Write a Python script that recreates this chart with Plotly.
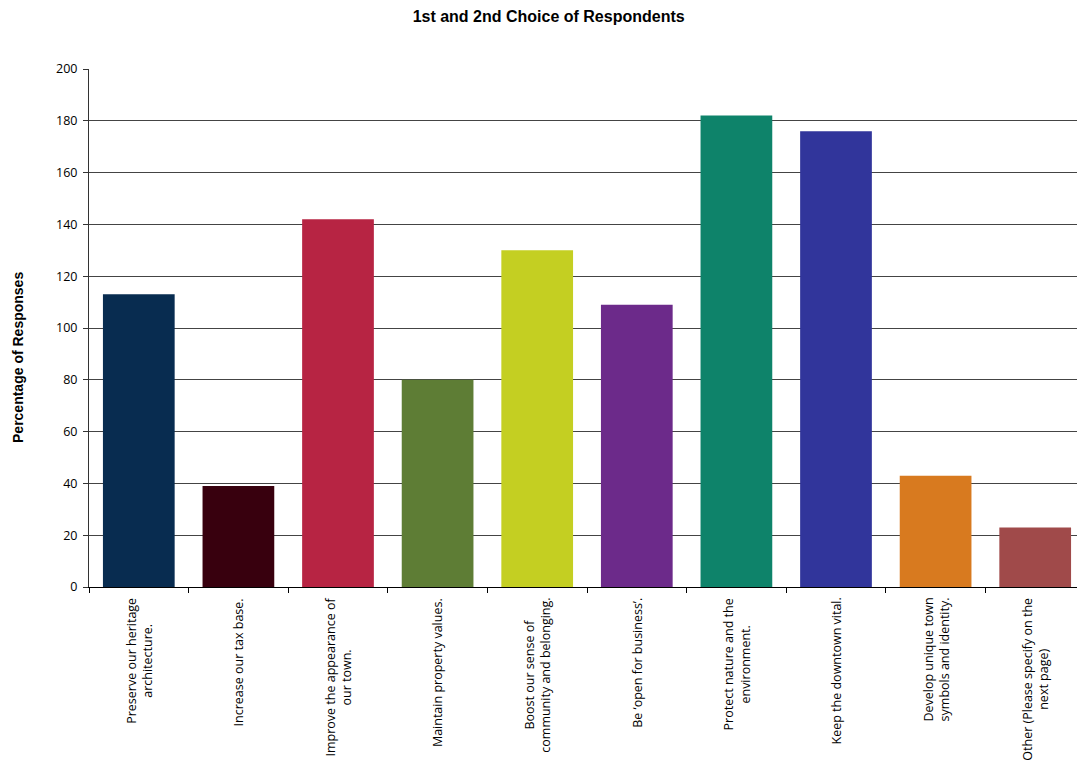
import plotly.graph_objects as go

# Data
categories = [
    "Preserve our heritage<br>architecture.",
    "Increase our tax base.",
    "Improve the appearance of<br>our town.",
    "Maintain property values.",
    "Boost our sense of<br>community and belonging.",
    "Be ‘open for business’.",
    "Protect nature and the<br>environment.",
    "Keep the downtown vital.",
    "Develop unique town<br>symbols and identity.",
    "Other (Please specify on the<br>next page)",
]
values = [113, 39, 142, 80, 130, 109, 182, 176, 43, 23]
colors = ["#082C50", "#38000E", "#B72443", "#5E7D35", "#C4CF22",
          "#6C2A8A", "#0E836A", "#31359B", "#D87A1F", "#A04A4A"]
y_ticks = list(range(0, 201, 20))

fig = go.Figure()

fig.add_trace(go.Bar(
    x=categories,
    y=values,
    marker_color=colors,
    marker_line_width=0,
    showlegend=False,
))

# category labels as centred, rotated annotations (tick labels would be right-aligned)
annots = []
for c in categories:
    annots.append(dict(
        text=c, x=c, y=0, xref="x", yref="paper",
        yanchor="top", xanchor="center", yshift=-9,
        textangle=-90, align="center", showarrow=False,
        font=dict(family="Open Sans", size=12.5, color="black"),
    ))

annots.append(dict(
    text="<b>Percentage of Responses</b>",
    xref="paper", yref="paper",
    x=-0.0713, y=0.444,
    textangle=-90, showarrow=False,
    xanchor="center", yanchor="middle",
    font=dict(family="Liberation Sans, Arial", size=14, color="black"),
))

fig.update_layout(
    width=1077,
    height=767,
    plot_bgcolor="white",
    paper_bgcolor="white",
    margin=dict(l=81, r=0, t=61, b=188),
    bargap=0.28,
    title=dict(
        text="<b>1st and 2nd Choice of Respondents</b>",
        x=0.502, xref="container", y=0.9896, yref="container",
        xanchor="center", yanchor="middle",
        font=dict(family="Liberation Sans, Arial", size=16, color="black"),
    ),
    font=dict(family="Open Sans", size=12, color="black"),
    xaxis=dict(
        tickson="boundaries",
        ticks="outside",
        ticklen=5,
        tickcolor="black",
        showline=True,
        linecolor="black",
        linewidth=1,
        showgrid=False,
        showticklabels=False,
    ),
    yaxis=dict(
        range=[0, 200],
        tickvals=y_ticks,
        ticks="outside",
        ticklen=5,
        tickcolor="#333333",
        ticklabelstandoff=3,
        showline=True,
        linecolor="#333333",
        linewidth=1,
        showgrid=True,
        gridcolor="#444444",
        gridwidth=1,
        zeroline=False,
        tickfont=dict(family="Open Sans", size=12.5, color="black"),
    ),
    annotations=annots,
)

fig.write_html("out.html")
